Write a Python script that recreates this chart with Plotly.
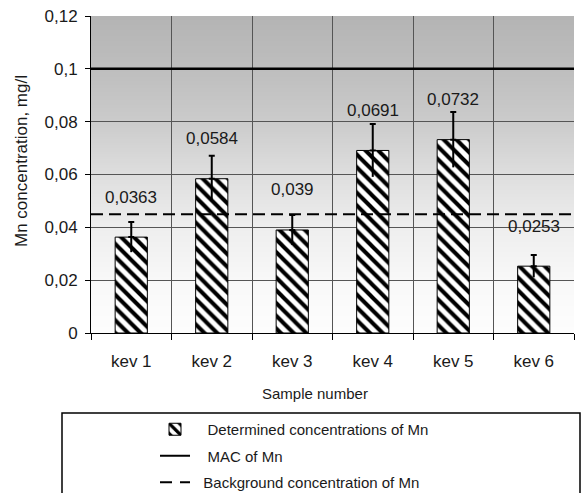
import base64
import struct
import zlib

import plotly.graph_objects as go

categories = ["kev 1", "kev 2", "kev 3", "kev 4", "kev 5", "kev 6"]
values = [0.0363, 0.0584, 0.039, 0.0691, 0.0732, 0.0253]
errors = [0.0057, 0.0087, 0.0057, 0.0100, 0.0105, 0.0042]
mac_value = 0.1
background_value = 0.045
y_ticks = [0, 0.02, 0.04, 0.06, 0.08, 0.1, 0.12]
label_texts = [str(v).replace(".", ",") for v in values]

W, H = 586, 493
L, R, T, B = 91, 12, 16, 160
pw, ph = W - L - R, H - T - B


def px_x(p):
    return (p - L) / pw


def px_y(p):
    return (H - B - p) / ph


FONT = "Liberation Sans, Arial, sans-serif"
TXT = "#1a1a1a"
NB = "\u00a0"


# ---- vertical gray gradient as a tiny PNG (top dark -> bottom light)
def gradient_png():
    stops = [(0.0, 180), (0.17, 190), (0.33, 203), (0.5, 222), (0.67, 238), (0.83, 248), (1.0, 253)]
    n = 256
    rows = []
    for i in range(n):
        t = i / (n - 1)
        for (t0, c0), (t1, c1) in zip(stops[:-1], stops[1:]):
            if t0 <= t <= t1:
                v = c0 + (c1 - c0) * (t - t0) / (t1 - t0)
                break
        rows.append(int(round(v)))
    raw = b"".join(b"\x00" + bytes([v]) for v in rows)

    def chunk(tag, data):
        c = struct.pack(">I", len(data)) + tag + data
        return c + struct.pack(">I", zlib.crc32(tag + data) & 0xFFFFFFFF)

    png = b"\x89PNG\r\n\x1a\n"
    png += chunk(b"IHDR", struct.pack(">IIBBBBB", 1, n, 8, 0, 0, 0, 0))
    png += chunk(b"IDAT", zlib.compress(raw, 9))
    png += chunk(b"IEND", b"")
    return "data:image/png;base64," + base64.b64encode(png).decode()


fig = go.Figure()

fig.add_trace(go.Bar(
    x=categories, y=values, name=NB * 3 + "Determined concentrations of Mn",
    width=0.4,
    marker=dict(color="white", line=dict(color="black", width=1),
                pattern=dict(shape="\\", size=9, solidity=0.45,
                             fgcolor="black", bgcolor="white", fillmode="replace")),
    error_y=dict(type="data", array=errors, arrayminus=[0] * len(errors),
                 symmetric=False, color="black", thickness=2, width=3),
    legendgroup="a", showlegend=True,
))
fig.add_trace(go.Scatter(
    x=categories, y=values, mode="markers", marker=dict(size=0.1, color="rgba(0,0,0,0)"),
    error_y=dict(type="data", array=[0] * len(errors), arrayminus=errors,
                 symmetric=False, color="black", thickness=2, width=0),
    showlegend=False, hoverinfo="skip",
))
fig.add_trace(go.Scatter(x=[None], y=[None], mode="lines", name=NB * 3 + "MAC of Mn",
                         line=dict(color="black", width=2), legendgroup="b"))
fig.add_trace(go.Scatter(x=[None], y=[None], mode="lines",
                         name=NB * 2 + "Background concentration of Mn",
                         line=dict(color="black", width=2, dash="12px,8px"), legendgroup="c"))

fig.add_layout_image(source=gradient_png(), xref="paper", yref="paper",
                     x=0, y=1, sizex=1, sizey=1, xanchor="left", yanchor="top",
                     sizing="stretch", layer="below", opacity=1)

fig.add_shape(type="line", xref="x domain", yref="y", x0=0, x1=1,
              y0=mac_value, y1=mac_value, line=dict(color="black", width=2.5))
fig.add_shape(type="line", xref="x domain", yref="y", x0=0, x1=1,
              y0=background_value, y1=background_value,
              line=dict(color="black", width=2, dash="12px,6px"))

# legend box
fig.add_shape(type="rect", xref="paper", yref="paper",
              x0=px_x(62), x1=px_x(580), y0=px_y(413), y1=px_y(510),
              line=dict(color="black", width=1.5), fillcolor="rgba(0,0,0,0)")

for c, v, t in zip(categories, values, label_texts):
    fig.add_annotation(x=c, y=v, text=t, showarrow=False, yanchor="middle",
                       yshift=40, font=dict(family=FONT, size=17, color=TXT))

fig.add_annotation(xref="paper", yref="paper", x=px_x(315), y=px_y(393),
                   xanchor="center", yanchor="middle",
                   text="Sample number", showarrow=False,
                   font=dict(family=FONT, size=15, color=TXT))
fig.add_annotation(xref="paper", yref="paper", x=px_x(21), y=px_y(161),
                   xanchor="center", yanchor="middle",
                   text="Mn concentration, mg/l", showarrow=False, textangle=-90,
                   font=dict(family=FONT, size=17, color=TXT))

fig.update_layout(
    width=W, height=H, margin=dict(l=L, r=R, t=T, b=B, autoexpand=False),
    paper_bgcolor="white", plot_bgcolor="rgba(0,0,0,0)",
    separators=",.",
    showlegend=True,
    legend=dict(x=px_x(155), y=px_y(413), xanchor="left", yanchor="top",
                bgcolor="rgba(0,0,0,0)", borderwidth=0, tracegroupgap=4,
                font=dict(family=FONT, size=15, color=TXT), itemwidth=30),
    font=dict(family=FONT, color=TXT),
)
fig.update_xaxes(type="category", range=[-0.5, 5.5], tickson="boundaries",
                 showgrid=True, gridcolor="#555", gridwidth=1,
                 showline=True, linecolor="black", linewidth=1,
                 ticks="outside", ticklen=6, tickcolor="black",
                 ticklabelstandoff=13,
                 tickfont=dict(family=FONT, size=17, color=TXT))
fig.update_yaxes(range=[0, 0.12], tickvals=y_ticks, showgrid=True, gridcolor="#555",
                 gridwidth=1, showline=True, linecolor="black", linewidth=1,
                 ticks="outside", ticklen=5, tickcolor="black", zeroline=False,
                 ticklabelstandoff=4,
                 tickfont=dict(family=FONT, size=17, color=TXT))

fig.write_html("out.html", config={"displayModeBar": False},
               post_script="document.body.style.margin='0';document.body.style.padding='0';")
